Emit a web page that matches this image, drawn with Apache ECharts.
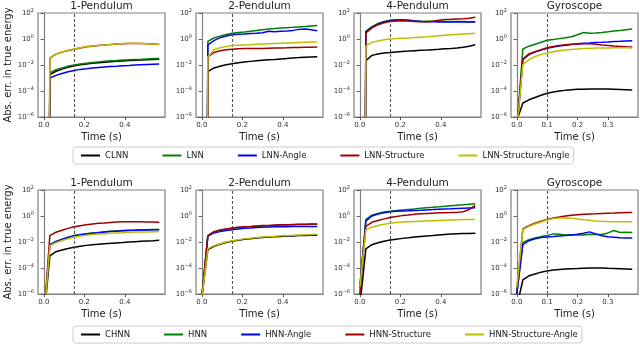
<!DOCTYPE html>
<html>
<head>
<meta charset="utf-8">
<script src="https://cdn.jsdelivr.net/npm/echarts@6/dist/echarts.min.js"></script>
<style>
  html, body { margin: 0; padding: 0; background: #fff; }
  #chart { width: 640px; height: 344px; }
</style>
</head>
<body>
<div id="chart"></div>
<script>
// time points (s)
const tPend = [0, 0.03, 0.06, 0.09, 0.12, 0.15, 0.18, 0.21, 0.24, 0.27, 0.30, 0.33, 0.36, 0.39, 0.42, 0.45, 0.48, 0.51, 0.54, 0.57];
const tGyro = [0, 0.02, 0.04, 0.06, 0.08, 0.10, 0.12, 0.14, 0.16, 0.18, 0.20, 0.22, 0.24, 0.26, 0.28, 0.30, 0.32, 0.34, 0.36, 0.38];

const panelTitles = ['1-Pendulum', '2-Pendulum', '4-Pendulum', 'Gyroscope'];
const lagNames = ['CLNN', 'LNN', 'LNN-Angle', 'LNN-Structure', 'LNN-Structure-Angle'];
const hamNames = ['CHNN', 'HNN', 'HNN-Angle', 'HNN-Structure', 'HNN-Structure-Angle'];
const dashAt = [0.15, 0.15, 0.15, 0.1];
const xTicksPend = [0, 0.2, 0.4];
const xTicksGyro = [0, 0.1, 0.2, 0.3];

// rows in legend order: C*NN, *NN, *NN-Angle, *NN-Structure, *NN-Structure-Angle
// top row (0 at t=0 gets clipped like matplotlib does on a log axis)
const lagPend1 = [
  [0, 0.0018, 0.0033, 0.0048, 0.0066, 0.0087, 0.0105, 0.012, 0.0135, 0.015, 0.0166, 0.0178, 0.019, 0.0204, 0.022, 0.023, 0.024, 0.025, 0.026, 0.0275],
  [0, 0.0025, 0.0044, 0.006, 0.0079, 0.0102, 0.012, 0.0138, 0.0155, 0.0174, 0.0195, 0.021, 0.0224, 0.024, 0.025, 0.027, 0.028, 0.0295, 0.031, 0.032],
  [0, 0.001, 0.0016, 0.0022, 0.003, 0.0038, 0.0046, 0.0052, 0.0059, 0.0065, 0.0071, 0.0076, 0.0081, 0.0087, 0.0093, 0.01, 0.0105, 0.011, 0.0115, 0.012],
  [0, 0.034, 0.069, 0.098, 0.13, 0.165, 0.2, 0.25, 0.28, 0.31, 0.34, 0.37, 0.41, 0.44, 0.46, 0.46, 0.45, 0.43, 0.41, 0.38],
  [0, 0.035, 0.071, 0.10, 0.135, 0.17, 0.21, 0.26, 0.29, 0.32, 0.35, 0.38, 0.42, 0.45, 0.47, 0.47, 0.46, 0.44, 0.42, 0.39]
];
const lagPend2 = [
  [0, 0.0031, 0.0059, 0.0081, 0.0105, 0.0126, 0.0148, 0.017, 0.019, 0.021, 0.023, 0.025, 0.027, 0.0295, 0.032, 0.035, 0.037, 0.04, 0.042, 0.044],
  [0, 0.66, 1.2, 1.66, 2.2, 2.75, 3.2, 3.5, 4.0, 4.6, 5.2, 5.8, 6.3, 6.9, 7.4, 7.9, 8.5, 9.1, 10, 10.7],
  [0, 0.36, 0.74, 1.26, 1.7, 2.1, 2.3, 2.4, 2.6, 2.75, 3.0, 3.9, 3.6, 3.9, 4.2, 4.6, 5.5, 5.9, 5.2, 4.4],
  [0, 0.042, 0.093, 0.126, 0.148, 0.162, 0.174, 0.182, 0.186, 0.19, 0.19, 0.195, 0.2, 0.204, 0.209, 0.219, 0.224, 0.229, 0.234, 0.24],
  [0, 0.042, 0.15, 0.21, 0.26, 0.31, 0.33, 0.35, 0.36, 0.39, 0.42, 0.44, 0.46, 0.48, 0.5, 0.52, 0.54, 0.56, 0.575, 0.59]
];
const lagPend4 = [
  [0, 0.021, 0.055, 0.071, 0.083, 0.093, 0.102, 0.11, 0.117, 0.126, 0.135, 0.141, 0.151, 0.162, 0.174, 0.186, 0.204, 0.229, 0.275, 0.36],
  [0, 3.9, 8.9, 15.8, 22.4, 27.5, 30.2, 30.9, 28.8, 25.7, 24, 22.9, 22.9, 22.9, 22.4, 22.4, 21.9, 21.9, 21.4, 21.4],
  [0, 3.5, 7.9, 14.1, 20, 25.1, 28.2, 28.8, 26.9, 24.5, 22.4, 21.4, 20.9, 20.4, 20.4, 20, 20, 20, 20, 20],
  [0, 2.9, 7.1, 12.6, 17.8, 21.9, 24.5, 25.7, 24, 22.4, 21.4, 21.4, 22.9, 28.2, 31.6, 33, 34.7, 36.3, 39.8, 46.8],
  [0, 0.28, 0.55, 0.71, 0.87, 1.0, 1.07, 1.15, 1.2, 1.29, 1.38, 1.48, 1.62, 1.78, 1.95, 2.1, 2.24, 2.4, 2.57, 2.75]
];
const lagGyro = [
  [5e-7, 1.2e-5, 2.1e-5, 3.2e-5, 4.7e-5, 6.8e-5, 8.5e-5, 1e-4, 1.12e-4, 1.26e-4, 1.35e-4, 1.38e-4, 1.41e-4, 1.41e-4, 1.41e-4, 1.41e-4, 1.38e-4, 1.32e-4, 1.26e-4, 1.2e-4],
  [1e-7, 0.17, 0.28, 0.4, 0.56, 0.79, 0.91, 1.07, 1.26, 1.5, 2.1, 3.2, 2.75, 2.9, 3.1, 3.6, 4.2, 4.6, 5.2, 5.9],
  [1e-7, 0.026, 0.063, 0.1, 0.14, 0.19, 0.24, 0.29, 0.33, 0.38, 0.43, 0.47, 0.5, 0.54, 0.56, 0.59, 0.63, 0.66, 0.71, 0.74],
  [1e-7, 0.029, 0.071, 0.107, 0.15, 0.21, 0.26, 0.32, 0.36, 0.4, 0.42, 0.43, 0.43, 0.4, 0.35, 0.32, 0.29, 0.27, 0.25, 0.24],
  [1e-7, 0.0107, 0.026, 0.045, 0.063, 0.083, 0.105, 0.126, 0.141, 0.158, 0.17, 0.182, 0.19, 0.2, 0.204, 0.204, 0.209, 0.209, 0.209, 0.204]
];
// bottom row
const hamPend1 = [
  [1e-8, 8.7e-4, 0.0018, 0.0024, 0.0032, 0.004, 0.0048, 0.0055, 0.0062, 0.0068, 0.0074, 0.0079, 0.0085, 0.0091, 0.0098, 0.0105, 0.0112, 0.012, 0.0126, 0.0135],
  [1e-8, 0.0062, 0.0112, 0.0166, 0.023, 0.031, 0.037, 0.044, 0.049, 0.055, 0.061, 0.066, 0.071, 0.076, 0.08, 0.083, 0.087, 0.089, 0.091, 0.093],
  [1e-8, 0.0059, 0.0107, 0.0158, 0.022, 0.03, 0.035, 0.042, 0.047, 0.052, 0.058, 0.063, 0.068, 0.072, 0.076, 0.079, 0.083, 0.085, 0.087, 0.089],
  [1e-8, 0.031, 0.056, 0.079, 0.112, 0.148, 0.18, 0.21, 0.245, 0.275, 0.295, 0.32, 0.34, 0.355, 0.36, 0.36, 0.355, 0.345, 0.34, 0.33],
  [1e-8, 0.0052, 0.0089, 0.0132, 0.018, 0.024, 0.029, 0.033, 0.037, 0.041, 0.044, 0.047, 0.05, 0.052, 0.055, 0.058, 0.059, 0.06, 0.062, 0.063]
];
const hamPend2 = [
  [5e-7, 0.0026, 0.0047, 0.0068, 0.0092, 0.0115, 0.0138, 0.016, 0.018, 0.02, 0.0222, 0.024, 0.0255, 0.027, 0.0285, 0.0295, 0.031, 0.032, 0.033, 0.033],
  [5e-7, 0.03, 0.06, 0.079, 0.097, 0.114, 0.128, 0.14, 0.15, 0.162, 0.173, 0.18, 0.19, 0.2, 0.204, 0.213, 0.218, 0.222, 0.228, 0.233],
  [5e-7, 0.028, 0.05, 0.063, 0.076, 0.087, 0.1, 0.112, 0.12, 0.129, 0.138, 0.145, 0.148, 0.151, 0.151, 0.155, 0.155, 0.155, 0.155, 0.155],
  [5e-7, 0.031, 0.063, 0.083, 0.102, 0.12, 0.135, 0.148, 0.158, 0.17, 0.182, 0.19, 0.2, 0.209, 0.214, 0.224, 0.229, 0.234, 0.24, 0.245],
  [5e-7, 0.003, 0.0052, 0.0074, 0.01, 0.0126, 0.0151, 0.0174, 0.0195, 0.022, 0.0245, 0.0263, 0.028, 0.03, 0.0316, 0.033, 0.035, 0.036, 0.038, 0.039]
];
const hamPend4 = [
  [1e-7, 0.003, 0.0062, 0.0087, 0.0115, 0.0141, 0.0166, 0.019, 0.021, 0.024, 0.027, 0.0295, 0.032, 0.035, 0.038, 0.041, 0.043, 0.045, 0.046, 0.047],
  [2.8e-6, 0.54, 1.17, 1.58, 2.0, 2.35, 2.6, 2.9, 3.2, 3.5, 4.0, 4.4, 4.7, 5.1, 5.6, 6.2, 6.8, 7.4, 8.1, 8.7],
  [2.8e-6, 0.4, 1.0, 1.41, 1.78, 2.1, 2.3, 2.45, 2.57, 2.7, 2.8, 2.95, 3.1, 3.3, 3.5, 3.6, 3.8, 4.0, 4.2, 4.3],
  [1e-6, 0.16, 0.33, 0.45, 0.6, 0.76, 0.91, 1.07, 1.2, 1.35, 1.48, 1.58, 1.66, 1.74, 1.78, 1.82, 1.9, 2.14, 3.16, 6.5],
  [3.2e-6, 0.089, 0.138, 0.186, 0.234, 0.28, 0.316, 0.34, 0.36, 0.38, 0.4, 0.42, 0.44, 0.46, 0.48, 0.5, 0.52, 0.54, 0.54, 0.54]
];
const hamGyro = [
  [1e-7, 1.2e-5, 2.5e-5, 3.5e-5, 4.8e-5, 6e-5, 6.9e-5, 7.6e-5, 8.3e-5, 8.9e-5, 9.1e-5, 9.5e-5, 9.8e-5, 9.8e-5, 9.8e-5, 9.5e-5, 9.3e-5, 8.9e-5, 8.5e-5, 8.1e-5],
  [1e-6, 0.0093, 0.015, 0.02, 0.026, 0.031, 0.042, 0.04, 0.035, 0.036, 0.035, 0.035, 0.04, 0.037, 0.038, 0.05, 0.076, 0.054, 0.056, 0.055],
  [1e-6, 0.0062, 0.0126, 0.018, 0.0224, 0.0245, 0.026, 0.029, 0.0316, 0.035, 0.04, 0.048, 0.06, 0.042, 0.03, 0.025, 0.023, 0.021, 0.02, 0.02],
  [2e-6, 0.102, 0.18, 0.28, 0.4, 0.54, 0.69, 0.85, 1.0, 1.12, 1.23, 1.35, 1.45, 1.5, 1.58, 1.66, 1.7, 1.78, 1.82, 1.86],
  [3.3e-6, 0.089, 0.158, 0.24, 0.35, 0.5, 0.63, 0.71, 0.72, 0.68, 0.6, 0.52, 0.47, 0.42, 0.39, 0.37, 0.36, 0.36, 0.36, 0.36]
];

const colors = ['#000000', '#008000', '#0000ff', '#a00000', '#bfbf00'];
const FONT = 'DejaVu Sans';
const lefts = [38, 196, 354, 511];
const tops = [13, 190];
const W = 127, H = 104;

// "10^e" with a raised exponent via rich text
function powLabel(v) {
  const e = Math.round(Math.log10(v));
  return '{b|10}{s|' + (e < 0 ? '−' + (-e) : e) + '}';
}

const grids = [], xAxes = [], yAxes = [], series = [], graphics = [];
const panels = [
  [lagPend1, lagPend2, lagPend4, lagGyro],
  [hamPend1, hamPend2, hamPend4, hamGyro]
];

panels.forEach((row, r) => {
  const names = r === 0 ? lagNames : hamNames;
  row.forEach((rows, c) => {
    const gi = r * 4 + c;
    const gyro = c === 3;
    const t = gyro ? tGyro : tPend;
    const ticks = gyro ? xTicksGyro : xTicksPend;
    grids.push({
      left: lefts[c], top: tops[r], width: W, height: H,
      show: true, borderColor: '#808080', borderWidth: 1.2, backgroundColor: 'transparent'
    });
    xAxes.push({
      type: 'value', gridIndex: gi,
      min: gyro ? -0.019 : -0.0285, max: gyro ? 0.399 : 0.5985,
      name: 'Time (s)', nameLocation: 'middle', nameGap: 15,
      nameTextStyle: { fontFamily: FONT, fontSize: 10, color: '#222' },
      axisLine: { show: true, lineStyle: { color: '#808080', width: 1.2 } },
      axisTick: { show: true, length: 3, customValues: ticks, lineStyle: { color: '#555' } },
      axisLabel: {
        customValues: ticks, margin: 5, fontFamily: FONT, fontSize: 7, color: '#333',
        formatter: v => v.toFixed(1)
      },
      splitLine: { show: false }
    });
    yAxes.push({
      type: 'log', logBase: 10, gridIndex: gi, min: 1e-6, max: 100, interval: 2,
      name: c === 0 ? 'Abs. err. in true energy' : '',
      nameLocation: 'middle', nameGap: 22,
      nameTextStyle: { fontFamily: FONT, fontSize: 10, color: '#222' },
      axisLine: { show: true, lineStyle: { color: '#808080', width: 1.2 } },
      axisTick: { show: true, length: 3, lineStyle: { color: '#555' } },
      axisLabel: {
        margin: 4, fontFamily: FONT, fontSize: 7, color: '#333', formatter: powLabel,
        rich: {
          b: { fontFamily: FONT, fontSize: 7, color: '#333' },
          s: { fontFamily: FONT, fontSize: 5, color: '#333', padding: [0, 0, 5, 0] }
        }
      },
      splitLine: { show: false }
    });
    rows.forEach((vals, k) => {
      const s = {
        type: 'line', name: names[k], xAxisIndex: gi, yAxisIndex: gi,
        data: t.map((x, i) => [x, vals[i] > 0 ? vals[i] : 1e-100]),
        showSymbol: false, symbol: 'none', clip: true, z: 2 + k,
        lineStyle: { width: 1.5, color: colors[k] },
        itemStyle: { color: colors[k] }
      };
      if (k === 4) {
        s.markLine = {
          silent: true, symbol: ['none', 'none'], label: { show: false },
          lineStyle: { type: [3, 2], color: '#555', width: 1.1 },
          data: [{ xAxis: dashAt[c] }]
        };
      }
      series.push(s);
    });
    graphics.push({
      type: 'text', x: lefts[c] + W / 2, y: tops[r] - 7,
      style: { text: panelTitles[c], textAlign: 'center', textVerticalAlign: 'middle',
        font: '10.5px "DejaVu Sans"', fill: '#222' }
    });
  });
});

const legendBase = {
  left: 73, icon: 'rect', itemWidth: 19, itemHeight: 2, itemGap: 34,
  padding: [4, 4, 4, 8], borderColor: '#cccccc', borderWidth: 1, borderRadius: 3,
  backgroundColor: '#fff',
  textStyle: { fontFamily: FONT, fontSize: 8.5, color: '#222' }
};

const chart = echarts.init(document.getElementById('chart'));
chart.setOption({
  animation: false,
  backgroundColor: '#fff',
  color: colors,
  grid: grids,
  xAxis: xAxes,
  yAxis: yAxes,
  legend: [
    Object.assign({}, legendBase, { top: 147, data: lagNames }),
    Object.assign({}, legendBase, { top: 326, data: hamNames })
  ],
  graphic: graphics,
  series: series
});
</script>
</body>
</html>
